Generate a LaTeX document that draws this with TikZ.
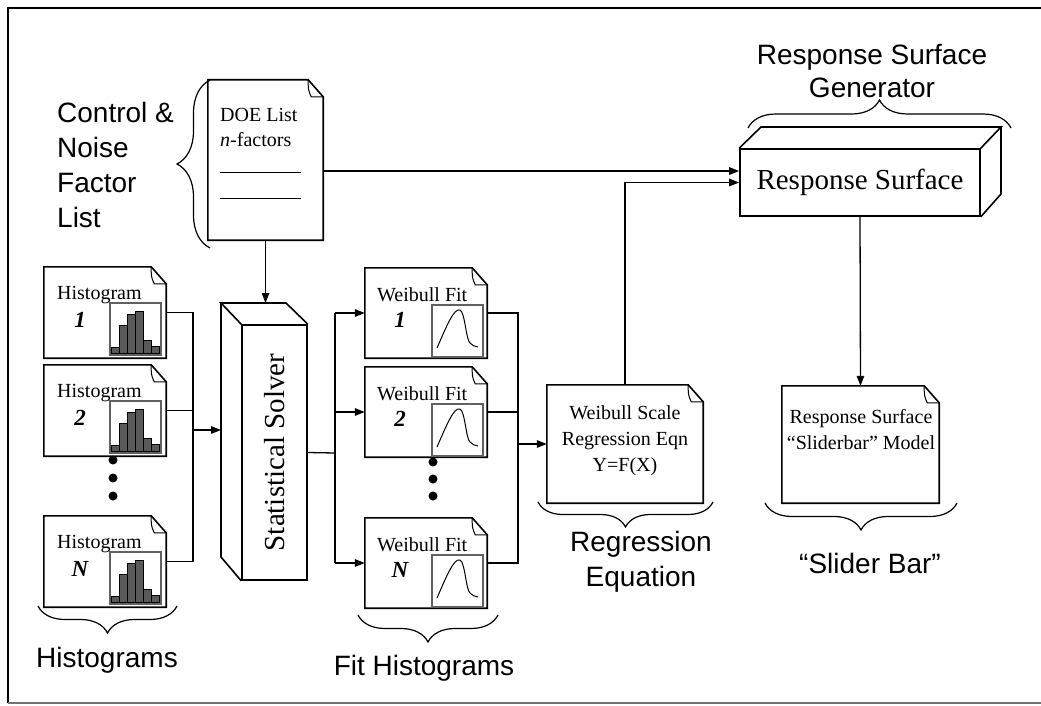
\documentclass[tikz,border=0pt]{standalone}
\usepackage{fontspec}
\setmainfont{Liberation Serif}
\setsansfont{Liberation Sans}
\usetikzlibrary{decorations.pathreplacing,arrows.meta,fit}

% page with a folded top-right corner: name, left, top, right, bottom
\newcommand\docpage[5]{%
  \path (#2,#3) coordinate (#1-nw) (#4,#5) coordinate (#1-se);
  \node[inner sep=0, fit=(#1-nw)(#1-se)] (#1) {};
  \draw[docline, fill=white] (#1.north west) -- ([xshift=-15pt]#1.north east)
    -- ([yshift=-17pt]#1.north east) -- (#1.south east) -- (#1.south west) -- cycle;
  \draw[docline, line width=1pt] ([xshift=-15pt]#1.north east)
    .. controls ([xshift=-15pt,yshift=-10pt]#1.north east) .. ([xshift=-12pt,yshift=-17pt]#1.north east)
    -- ([yshift=-17pt]#1.north east);
}

% histogram page: name, left, top, index
\newcommand\histdoc[4]{%
  \docpage{#1}{#2}{#3}{#2+122}{#3+91}
  \node[doctext, anchor=west] (#1-t) at (#2+13,#3+28) {Histogram};
  \node[idx] (#1-n) at (#2+36,#3+53) {#4};
  \foreach \h [count=\i from 0] in {6,28,39,42,13,7}
    \draw[bar] (#2+67+8*\i,#3+86) rectangle ++(8,-\h);
  \draw[chartframe] (#2+66,#3+36) rectangle (#2+117,#3+88);
}

% Weibull fit page: name, left, top, index
\newcommand\fitdoc[4]{%
  \docpage{#1}{#2}{#3}{#2+122}{#3+90}
  \node[doctext, anchor=west] (#1-t) at (#2+12,#3+27) {Weibull Fit};
  \node[idx] (#1-n) at (#2+35,#3+52) {#4};
  \draw[chartframe] (#2+67,#3+37) rectangle (#2+118,#3+89);
  \draw[line width=1pt] (#2+72,#3+80) .. controls (#2+82,#3+57) and (#2+89,#3+40) .. (#2+95,#3+42)
    .. controls (#2+100,#3+44) and (#2+101,#3+72) .. (#2+105,#3+75)
    .. controls (#2+107,#3+78) and (#2+110,#3+78) .. (#2+113,#3+79);
}

\begin{document}
\begin{tikzpicture}[x=1pt,y=-1pt,
  docline/.style={line width=1.6pt, line join=miter},
  wire/.style={line width=1.3pt},
  arr/.style={wire, -{Triangle[length=10pt,width=7.5pt]}},
  brc/.style={decorate, decoration={brace, amplitude=#1}, line width=1.2pt},
  brc/.default=27pt,
  lbl/.style={font=\sffamily\fontsize{28}{34}\selectfont, inner sep=0},
  doctext/.style={font=\fontsize{20}{26}\selectfont, inner sep=0},
  idx/.style={font=\bfseries\itshape\fontsize{23}{23}\selectfont, inner sep=0},
  chartframe/.style={draw=black!62, line width=2.6pt},
  bar/.style={fill=black!65, draw=black, line width=0.7pt},
  dot/.style={circle, fill=black, inner sep=0, minimum size=9pt},
]
\useasboundingbox (0,0) rectangle (1041,706);

% frame
\draw[line width=1.3pt] (8,703) -- (8,8) -- (1041,8);
\draw[line width=1.3pt, black!55] (8,703) -- (1041,703);

% factor list
\docpage{doe}{208}{80}{323}{240}
\node[doctext, anchor=west] (doe-t1) at (220,115) {DOE List};
\node[doctext, anchor=west] (doe-t2) at (220,140) {\textit{n}-factors};
\draw[line width=1pt] (220,172) -- (301,172) (220,198) -- (301,198);
\draw[brc=33pt] (210,248) -- (210,80);
\node[lbl, align=left, anchor=west, font=\sffamily\fontsize{28}{35.3}\selectfont] (cnlabel) at (57,165)
  {Control \&\\Noise\\Factor\\List};

% histograms
\histdoc{h1}{44}{267}{1}
\histdoc{h2}{44}{365}{2}
\histdoc{hN}{44}{516}{N}
\node[dot] (hd1) at (113,460) {};
\node[dot] (hd2) at (113,478) {};
\node[dot] (hd3) at (113,496) {};
\draw[brc] (177,606) -- (38,606);
\node[lbl] (histlbl) at (107,660) {Histograms};

% statistical solver block
\node[draw, line width=1.6pt, minimum width=65pt, minimum height=255pt, inner sep=0] (solver) at (274.5,452.5) {};
\path (221,303) coordinate (sbnw) (286,303) coordinate (sbne) (221,557) coordinate (sbsw);
\draw[docline] (solver.north west) -- (sbnw) -- (sbne) -- (solver.north east);
\draw[docline] (sbnw) -- (sbsw) -- (solver.south west);
\node[rotate=90, font=\fontsize{29}{29}\selectfont, inner sep=0] (solverlbl) at (solver.center) {Statistical Solver};

% fitted histograms
\fitdoc{w1}{365}{268}{1}
\fitdoc{w2}{365}{367}{2}
\fitdoc{wN}{365}{518}{N}
\node[dot] (wd1) at (433,462) {};
\node[dot] (wd2) at (433,479) {};
\node[dot] (wd3) at (433,496) {};
\draw[brc] (498,615) -- (358,615);
\node[lbl] (fitlbl) at (424,668) {Fit Histograms};

% regression equation
\docpage{reg}{547}{385}{703}{503}
\node[doctext, align=center] (regtxt) at (625,441) {Weibull Scale\\Regression Eqn\\Y=F(X)};
\draw[brc=25pt] (713,502) -- (538,502);
\node[lbl, align=center, font=\sffamily\fontsize{28}{35}\selectfont] (reglbl) at (641,562) {Regression\\Equation};

% response surface block
\node[draw, line width=1.6pt, minimum width=240pt, minimum height=67pt, inner sep=0,
  font=\fontsize{29}{29}\selectfont] (rs) at (860,182.5) {Response Surface};
\path (761,127) coordinate (rbnw) (1001,127) coordinate (rbne) (1001,194) coordinate (rbse);
\draw[docline] (rs.north west) -- (rbnw) -- (rbne) -- (rs.north east);
\draw[docline] (rbne) -- (rbse) -- (rs.south east);
\draw[brc=28pt] (748,128) -- (1011,128);
\node[lbl, align=center, font=\sffamily\fontsize{28}{33}\selectfont] (rsgen) at (872,71) {Response Surface\\Generator};

% slider bar model
\docpage{slider}{782}{386}{939}{503}
\node[doctext, align=center] (slidertxt) at (861,430) {Response Surface\\“Sliderbar” Model};
\draw[brc] (957,503) -- (765,503);
\node[lbl] (sliderlbl) at (870,563) {“Slider Bar”};

% connectors
\draw[arr] (doe.south) -- (doe.south |- sbnw);
\path ([yshift=11.5pt]rs.west) coordinate (rsin1);
\draw[arr] (doe.east |- rsin1) -- (rsin1);
\draw[arr] (reg.north) |- (rs.west);
\draw[arr] (rs.south) -- (slider.north);

\coordinate (hbus) at (193,430);
\draw[wire] (h1.east) -- (h1.east -| hbus) -- (hN.east -| hbus) -- (hN.east);
\draw[wire] (h2.east) -- (h2.east -| hbus);
\draw[arr] (hbus) -- (hbus -| sbnw);

\coordinate (wbus) at (335,453);
\draw[wire] (solver.east) -- (wbus);
\draw[wire] (w1.west -| wbus) -- (wN.west -| wbus);
\draw[arr] (w1.west -| wbus) -- (w1.west);
\draw[arr] (w2.west -| wbus) -- (w2.west);
\draw[arr] (wN.west -| wbus) -- (wN.west);

\coordinate (rbus) at (518,444);
\draw[wire] (w1.east) -- (w1.east -| rbus) -- (wN.east -| rbus) -- (wN.east);
\draw[wire] (w2.east) -- (w2.east -| rbus);
\draw[arr] (rbus) -- (reg.west);
\end{tikzpicture}
\end{document}
